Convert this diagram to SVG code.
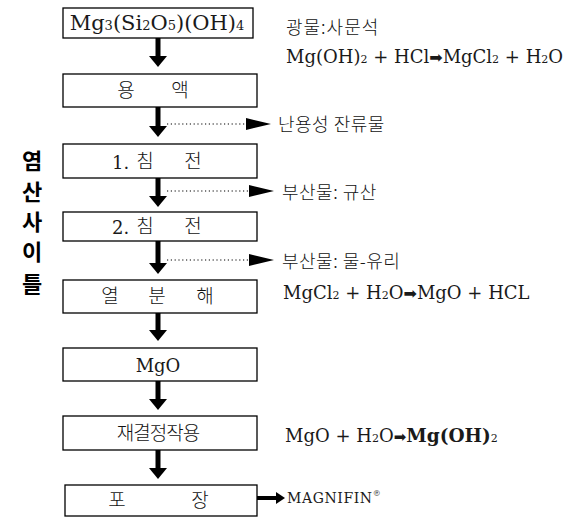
<svg xmlns="http://www.w3.org/2000/svg" width="573" height="520" viewBox="0 0 573 520">
  <style>
    .box { fill: #ffffff; stroke: #000000; stroke-width: 1.3; }
    .ko { font-family: "Noto Sans CJK KR", sans-serif; font-size: 19px; fill: #111111; font-weight: 300; }
    .note { font-family: "Noto Sans CJK KR", sans-serif; font-size: 18px; fill: #111111; font-weight: 300; letter-spacing: 0.5px; }
    .eq { font-family: "DejaVu Serif", serif; font-size: 18px; fill: #1a1a1a; font-weight: normal; }
    .sub { font-size: 11px; }
    .arw { font-family: "DejaVu Sans", sans-serif; font-size: 16px; }
    .side { font-family: "Noto Sans CJK KR", sans-serif; font-size: 22px; font-weight: 700; fill: #000000; }
    .stem { stroke: #000000; stroke-width: 5; fill: none; }
    .dot { stroke: #000000; stroke-width: 1.2; stroke-dasharray: 1.2 2.6; fill: none; }
    .head { fill: #000000; }
  </style>

  <!-- side caption -->
  <g id="side-label">
    <text class="side" x="32" y="169" text-anchor="middle">염</text>
    <text class="side" x="32" y="200" text-anchor="middle">산</text>
    <text class="side" x="32" y="230" text-anchor="middle">사</text>
    <text class="side" x="32" y="260" text-anchor="middle">이</text>
    <text class="side" x="32" y="292" text-anchor="middle">틀</text>
  </g>

  <!-- process steps -->
  <g id="step-mineral">
    <rect class="box" x="63" y="8" width="190" height="30"/>
    <text class="eq" x="157" y="30" text-anchor="middle" style="font-size:21px">Mg<tspan style="font-size:13px">3</tspan>(Si<tspan style="font-size:13px">2</tspan>O<tspan style="font-size:13px">5</tspan>)(OH)<tspan style="font-size:13px">4</tspan></text>
  </g>
  <g id="step-solution">
    <rect class="box" x="63" y="74" width="194" height="33"/>
    <text class="ko" x="126" y="97" text-anchor="middle">용</text>
    <text class="ko" x="180" y="97" text-anchor="middle">액</text>
  </g>
  <g id="step-precip1">
    <rect class="box" x="63" y="144" width="194" height="34"/>
    <text class="eq" x="112" y="169">1.</text>
    <text class="ko" x="145" y="168" text-anchor="middle">침</text>
    <text class="ko" x="193" y="168" text-anchor="middle">전</text>
  </g>
  <g id="step-precip2">
    <rect class="box" x="63" y="212" width="194" height="29"/>
    <text class="eq" x="112" y="234">2.</text>
    <text class="ko" x="145" y="233" text-anchor="middle">침</text>
    <text class="ko" x="193" y="233" text-anchor="middle">전</text>
  </g>
  <g id="step-pyrolysis">
    <rect class="box" x="63" y="280" width="194" height="33"/>
    <text class="ko" x="110" y="303" text-anchor="middle">열</text>
    <text class="ko" x="157" y="303" text-anchor="middle">분</text>
    <text class="ko" x="205" y="303" text-anchor="middle">해</text>
  </g>
  <g id="step-mgo">
    <rect class="box" x="63" y="348" width="194" height="33"/>
    <text class="eq" x="158" y="372" text-anchor="middle">MgO</text>
  </g>
  <g id="step-recryst">
    <rect class="box" x="63" y="416" width="194" height="34"/>
    <text class="ko" x="158" y="440" text-anchor="middle" style="letter-spacing:-1px">재결정작용</text>
  </g>
  <g id="step-packing">
    <rect class="box" x="65" y="485" width="192" height="31"/>
    <text class="ko" x="117" y="507" text-anchor="middle">포</text>
    <text class="ko" x="200" y="507" text-anchor="middle">장</text>
  </g>

  <!-- connectors -->
  <g id="connectors">
    <path class="stem" d="M158 38 V57"/>
    <path class="head" d="M149 56 H167 L158 67 Z"/>
    <path class="stem" d="M158 107 V127"/>
    <path class="head" d="M149 126 H167 L158 137 Z"/>
    <path class="stem" d="M158 178 V197"/>
    <path class="head" d="M149 196 H167 L158 207 Z"/>
    <path class="stem" d="M158 241 V264"/>
    <path class="head" d="M149 263 H167 L158 274 Z"/>
    <path class="stem" d="M158 313 V331"/>
    <path class="head" d="M149 330 H167 L158 341 Z"/>
    <path class="stem" d="M158 381 V400"/>
    <path class="head" d="M149 399 H167 L158 410 Z"/>
    <path class="stem" d="M158 450 V469"/>
    <path class="head" d="M149 468 H167 L158 479 Z"/>

    <!-- by-product branches -->
    <path class="dot" d="M167 124 H246"/>
    <path class="head" d="M246 118 L271 124 L246 130 Z"/>
    <path class="dot" d="M167 191 H249"/>
    <path class="head" d="M249 185 L274 191 L249 197 Z"/>
    <path class="dot" d="M167 260 H249"/>
    <path class="head" d="M249 254 L274 260 L249 266 Z"/>

    <!-- product outlet -->
    <path class="stem" d="M257 498 H277" style="stroke-width:4px"/>
    <path class="head" d="M276 492 L285 498 L276 504 Z"/>
  </g>

  <!-- annotations -->
  <g id="notes">
    <text class="note" x="286" y="34" style="letter-spacing:1px">광물:사문석</text>
    <text class="eq" x="286" y="63">Mg(OH)<tspan class="sub">2</tspan> + HCl<tspan class="arw">➡</tspan>MgCl<tspan class="sub">2</tspan> + H<tspan class="sub">2</tspan>O</text>
    <text class="note" x="278" y="131">난용성 잔류물</text>
    <text class="note" x="282" y="199">부산물:  규산</text>
    <text class="note" x="282" y="268">부산물:  물-유리</text>
    <text class="eq" x="283" y="299">MgCl<tspan class="sub">2</tspan> + H<tspan class="sub">2</tspan>O<tspan class="arw">➡</tspan>MgO + HCL</text>
    <text class="eq" x="285" y="442">MgO + H<tspan class="sub">2</tspan>O<tspan class="arw" style="font-size:15px">➡</tspan><tspan style="font-weight:bold;font-size:18.5px">Mg(OH)</tspan><tspan class="sub">2</tspan></text>
    <text class="eq" x="287" y="503" style="font-size:14px;letter-spacing:0.6px">MAGNIFIN<tspan style="font-size:8px" dy="-7">®</tspan></text>
  </g>
</svg>
